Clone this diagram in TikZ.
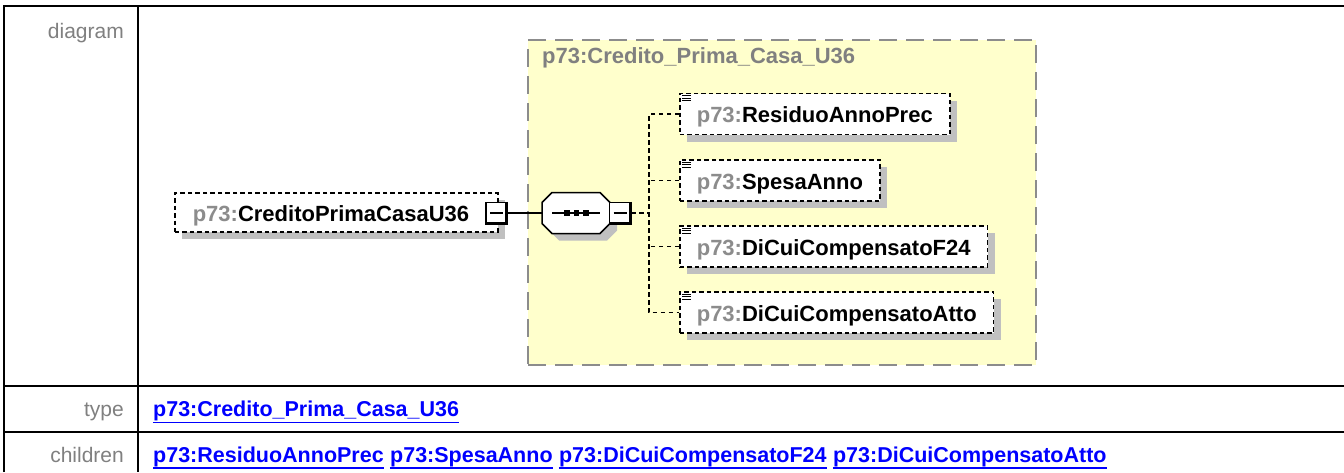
\documentclass[tikz,border=0pt]{standalone}
\usepackage{fontspec}
\setmainfont{Liberation Sans}
\usetikzlibrary{calc}
\definecolor{lblgray}{HTML}{808080}
\definecolor{prefgray}{HTML}{8C8C8C}
\definecolor{shadowgray}{HTML}{C0C0C0}
\definecolor{grpfill}{HTML}{FFFFCC}
\definecolor{grpgray}{HTML}{8C8C8C}
\definecolor{linkblue}{HTML}{0000FF}
\begin{document}
\begin{tikzpicture}[x=1pt,y=-1pt,
  lbl/.style={font={\fontsize{21}{25}\selectfont}, text=lblgray, inner sep=0},
  lnk/.style={font={\fontsize{21.5}{25}\selectfont\bfseries}, text=linkblue, inner sep=0},
  uline/.style={draw=linkblue, line width=1.6},
  elbox/.style={draw=black, line width=1.6, dash pattern=on 4.5pt off 3pt, fill=white,
    font={\fontsize{22}{26}\selectfont\bfseries}, inner xsep=17, inner ysep=0,
    text height=18.5, text depth=1,
    minimum height=41, anchor=west,
    preaction={draw=none, fill=shadowgray, transform canvas={shift={(7pt,-7pt)}}}},
  minusbox/.style={draw=black, fill=white, line width=1.3, minimum width=21, minimum height=21, inner sep=0,
    path picture={\draw[line width=1.5] ([xshift=4]path picture bounding box.west) -- ([xshift=-4]path picture bounding box.east);}},
  grpbox/.style={draw=grpgray, fill=grpfill, line width=2, dash pattern=on 18pt off 9pt,
    minimum width=508, minimum height=325, inner sep=0, anchor=north west},
  conn/.style={line width=1.6, dash pattern=on 4.5pt off 3.5pt},
  solidconn/.style={line width=1.5}
]
\useasboundingbox (0,0) rectangle (1344,472);
\fill[white] (0,0) rectangle (1344,472);

% table
\draw[line width=2.2] (4,472) -- (4,6) -- (1344,6);
\draw[line width=2.2] (138,6) -- (138,472);
\draw[line width=2.2] (4,386) -- (1344,386);
\draw[line width=2.2] (4,432) -- (1344,432);

\node[lbl, anchor=base east] (ldiag) at (124,38) {diagram};
\node[lbl, anchor=base east] (ltype) at (124,416.5) {type};
\node[lbl, anchor=base east] (lchild) at (124,462) {children};

\node[lnk, anchor=base west] (t1) at (153,416.5) {p73:Credito\_Prima\_Casa\_U36};
\draw[uline] ([yshift=-6]t1.base west) -- ([yshift=-6]t1.base east);

\node[lnk, anchor=base west] (l1) at (153,462) {p73:ResiduoAnnoPrec};
\node[lnk, anchor=base west] (l2) at ([xshift=6]l1.base east) {p73:SpesaAnno};
\node[lnk, anchor=base west] (l3) at ([xshift=6]l2.base east) {p73:DiCuiCompensatoF24};
\node[lnk, anchor=base west] (l4) at ([xshift=6]l3.base east) {p73:DiCuiCompensatoAtto};
\foreach \l in {l1,l2,l3,l4}
  \draw[uline] ([yshift=-6]\l.base west) -- ([yshift=-6]\l.base east);

% group box
\node[grpbox] (grp) at (527,39) {};
\node[anchor=west, inner sep=0, font={\fontsize{22}{26}\selectfont\bfseries}, text=lblgray] (gtitle) at (542,58) {p73:Credito\_Prima\_Casa\_U36};

% root element
\node[elbox, text width=287, align=left, inner xsep=18, minimum height=39] (root) at (174,212.5)
  {\textcolor{prefgray}{p73:}CreditoPrimaCasaU36};
\node[minusbox] (rmin) at (496.5,213) {};
\draw[line width=3] ([xshift=-1]rmin.north east) -- ([xshift=-1,yshift=1]rmin.south east) -- ([yshift=1]rmin.south west);

% sequence compositor
\node[minimum width=68, minimum height=41, inner sep=0] (seq) at (576,213) {};
\begin{scope}[shift={(7,7)}]
\fill[shadowgray] (552,192.5) -- (600,192.5) -- (610,202.5) -- (610,223.5) -- (600,233.5) -- (552,233.5) -- (542,223.5) -- (542,202.5) -- cycle;
\end{scope}
\draw[fill=white, line width=1.5] (552,192.5) -- (600,192.5) -- (610,202.5) -- (610,223.5) -- (600,233.5) -- (552,233.5) -- (542,223.5) -- (542,202.5) -- cycle;
\draw[line width=1.5] (552,213) -- (600,213);
\foreach \cx in {567,576.5,586}
  \fill (\cx-2.7,210.3) rectangle (\cx+2.7,215.7);
\node[minusbox] (smin) at (620,213) {};
\draw[line width=3] ([xshift=-1]smin.north east) -- ([xshift=-1,yshift=1]smin.south east) -- ([yshift=1]smin.south west);

\draw[solidconn] (rmin.east) -- (seq.west);

% children
\node[elbox] (c1) at (679,114) {\textcolor{prefgray}{p73:}ResiduoAnnoPrec};
\node[elbox] (c2) at (679,180.5) {\textcolor{prefgray}{p73:}SpesaAnno};
\node[elbox] (c3) at (679,246.5) {\textcolor{prefgray}{p73:}DiCuiCompensatoF24};
\node[elbox] (c4) at (679,312.5) {\textcolor{prefgray}{p73:}DiCuiCompensatoAtto};
\foreach \c in {c1,c2,c3,c4}
  \foreach \k in {0,1,2}
    \draw[line width=1.1] ($(\c.north west)+(3,3+2.6*\k)$) -- ++(9,0);

\coordinate (jn) at (649,213);
\draw[conn] (smin.east) -- (jn);
\draw[conn] (c1.west) -| (jn) |- (c4.west);
\draw[conn] (c2.west) -- (c2.west -| jn);
\draw[conn] (c3.west) -- (c3.west -| jn);
\end{tikzpicture}
\end{document}
